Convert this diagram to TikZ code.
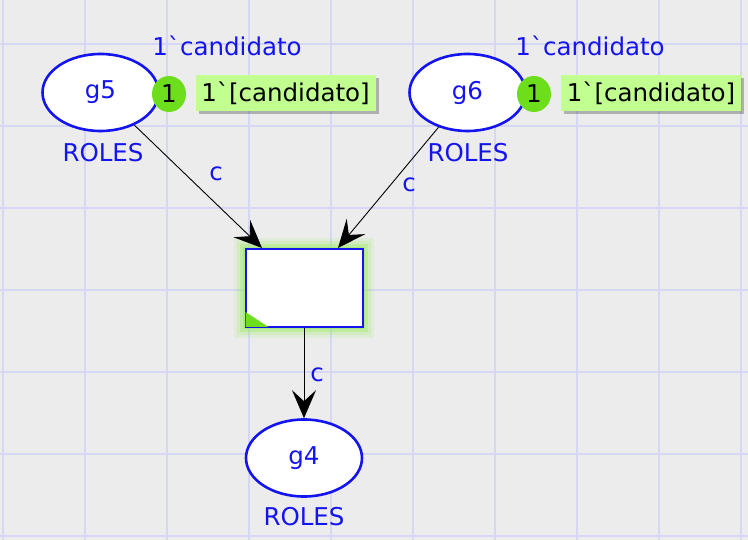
\documentclass[tikz,border=0pt]{standalone}
\usepackage{fontspec}
\setmainfont{DejaVu Sans}[Ligatures=TeXOff]
\usetikzlibrary{shapes.geometric,arrows.meta,shadows}
\definecolor{cpnblue}{RGB}{20,20,240}
\definecolor{cpngrid}{RGB}{214,214,245}
\definecolor{cpnbg}{RGB}{236,236,236}
\definecolor{tokgreen}{RGB}{108,222,28}
\definecolor{markgreen}{RGB}{192,255,144}
\definecolor{glowgreen}{RGB}{150,235,90}

\begin{document}
\begin{tikzpicture}[x=1pt,y=-1pt,
  every path/.style={>={Stealth[length=28pt,width=24pt,inset=11pt]}},
  every node/.style={font=\fontsize{24.5}{28}\selectfont},
  place/.style={draw=cpnblue,line width=2.6pt,fill=white,ellipse,minimum width=116pt,minimum height=77pt,inner sep=0pt,text=cpnblue},
  inscr/.style={text=cpnblue,inner sep=0pt},
  token/.style={fill=tokgreen,ellipse,minimum width=34pt,minimum height=36pt,inner sep=0pt},
  marking/.style={fill=markgreen,minimum width=180pt,minimum height=36pt,inner sep=0pt,
                  drop shadow={shadow xshift=3pt,shadow yshift=-3pt,fill=black,opacity=.25}},
  trans/.style={draw=cpnblue,line width=2pt,fill=white,minimum width=117pt,minimum height=78pt,inner sep=0pt},
  arc/.style={->,line width=0.9pt}]
% background and grid
\fill[cpnbg] (0,0) rectangle (748,540);
\useasboundingbox (0,0) rectangle (748,540);
\foreach \x in {3,85,...,741} \draw[cpngrid,line width=1.2pt] (\x,0) -- (\x,540);
\foreach \y in {44,126,...,536} \draw[cpngrid,line width=1.2pt] (0,\y) -- (748,\y);
% glow of the enabled transition
\foreach \g/\o in {11/0.12,8/0.2,5/0.3,2/0.5}
  \fill[glowgreen,opacity=\o] (245-\g,249-\g) rectangle (363+\g,327+\g);
% places
\node[place]     (g5) at (100.5,92.5) {g5};
\node[place]     (g6) at (467.5,92.5) {g6};
\node[place]     (g4) at (304,458)    {g4};
\node[inscr]     (r5) at (103,153)    {ROLES};
\node[inscr]     (r6) at (468,153)    {ROLES};
\node[inscr]     (r4) at (304,517)    {ROLES};
\node[inscr]     (i5) at (227,46)     {1`candidato};
\node[inscr]     (i6) at (590,46)     {1`candidato};
% markings
\node[token]     (k5) at (169,94)     {1};
\node[token]     (k6) at (534,94)     {1};
\node[marking]   (m5) at (285.5,93)   {1`[candidato]};
\node[marking]   (m6) at (651,93)     {1`[candidato]};
% transition
\node[trans]     (t)  at (304,288)    {};
\fill[tokgreen]  ([shift={(1,-1)}]t.south west) -- ++(0,-15) -- ([shift={(24,-1)}]t.south west) -- cycle;
% arcs
\coordinate      (in5) at (262,248);
\coordinate      (in6) at (338,248);
\draw[arc]       (g5) -- (in5);
\draw[arc]       (g6) -- (in6);
\draw[arc]       (t)  -- (g4);
\node[inscr]     (c5) at (216,174)    {c};
\node[inscr]     (c6) at (409,185)    {c};
\node[inscr]     (c4) at (317,375)    {c};
\end{tikzpicture}
\end{document}
